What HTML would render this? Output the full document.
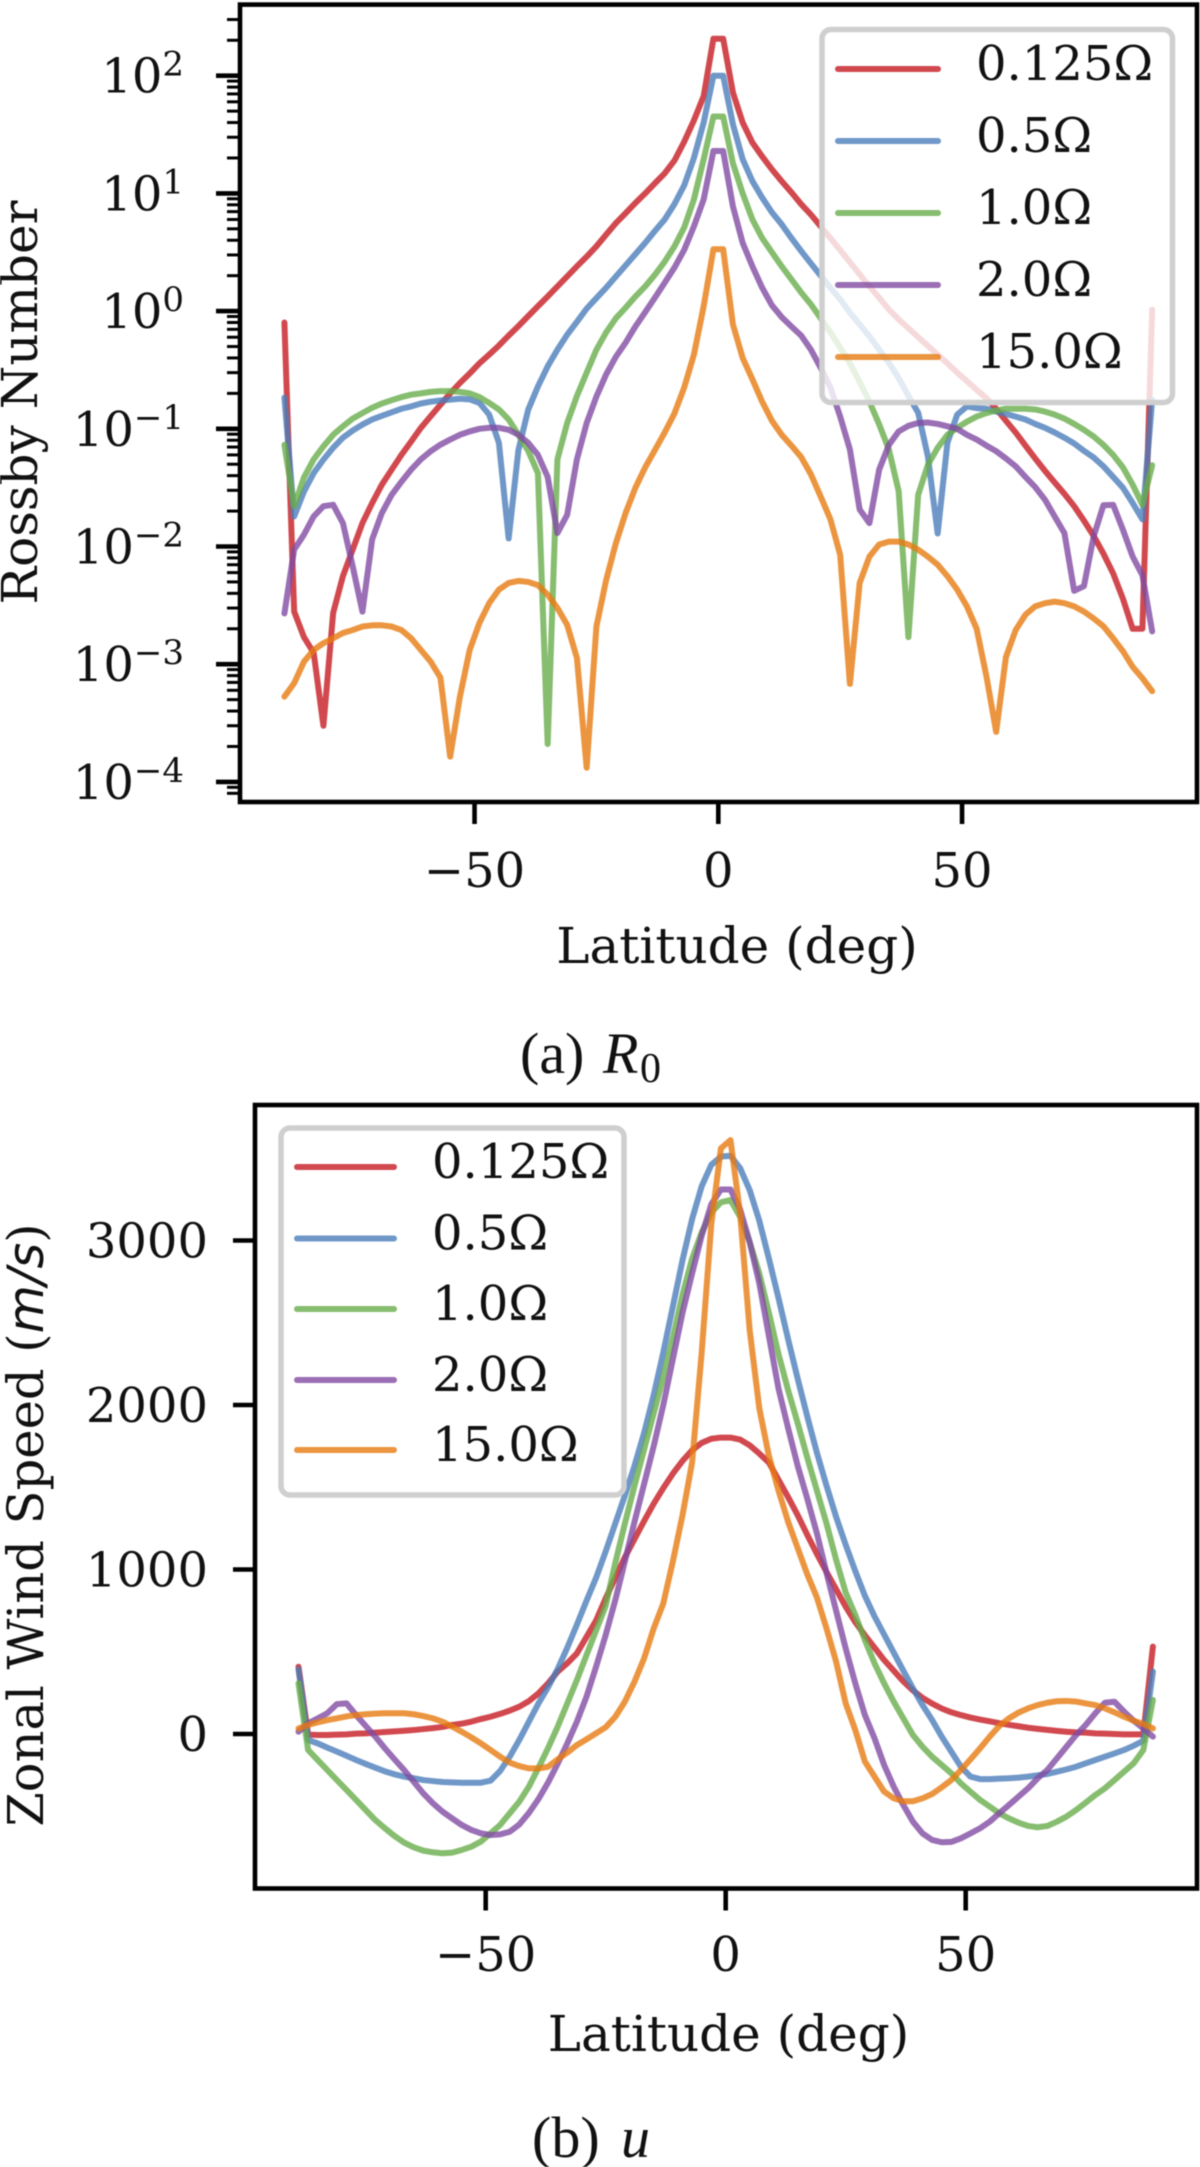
<!DOCTYPE html>
<html lang="en">
<head>
<meta charset="utf-8">
<title>Rossby Number and Zonal Wind Speed vs Latitude</title>
<style>
html,body{margin:0;padding:0;background:#fff;}
#figure{display:block;width:1200px;height:2167px;filter:blur(0.65px);}
.dj{font-family:"DejaVu Serif","Liberation Serif",serif;font-size:48px;fill:#111;}
.title{font-family:"DejaVu Serif","Liberation Serif",serif;font-size:50px;fill:#111;}
.cap{font-family:"Liberation Serif",serif;font-size:58px;fill:#111;}
.series{fill:none;stroke-width:6;stroke-linejoin:round;stroke-linecap:round;stroke-opacity:.8;}
.spine{fill:none;stroke:#000;stroke-width:4.6;}
.legend-box{fill:#fff;fill-opacity:.8;stroke:#cfcfcf;stroke-width:5.5;}
</style>
</head>
<body>
<svg id="figure" xmlns="http://www.w3.org/2000/svg" width="1200" height="2167" viewBox="0 0 1200 2167">
  <rect x="0" y="0" width="1200" height="2167" fill="#fff"/>
  <g id="chart-a"></g>
  <g id="chart-b"></g>
  <text class="title" transform="translate(37,402.5) rotate(-90)" text-anchor="middle">Rossby Number</text>
  <text class="title" x="737" y="963" text-anchor="middle">Latitude (deg)</text>
  <text class="cap" x="520" y="1073">(a)<tspan x="603" font-style="italic">R</tspan><tspan x="640" font-size="42" dy="9">0</tspan></text>
  <text class="title" style="font-size:49.5px" transform="translate(43,1525) rotate(-90)" text-anchor="middle">Zonal Wind Speed (<tspan font-family="'DejaVu Sans',sans-serif" font-style="italic">m/s</tspan>)</text>
  <text class="title" x="728.5" y="2051" text-anchor="middle">Latitude (deg)</text>
  <text class="cap" x="532" y="2157">(b)<tspan x="621" font-style="italic">u</tspan></text>
</svg>
<script>
const latitudes = [
  -89,-87,-85,-83,-81,-79,-77,-75,-73,-71,
  -69,-67,-65,-63,-61,-59,-57,-55,-53,-51,
  -49,-47,-45,-43,-41,-39,-37,-35,-33,-31,
  -29,-27,-25,-23,-21,-19,-17,-15,-13,-11,
  -9,-7,-5,-3,-1,1,3,5,7,9,
  11,13,15,17,19,21,23,25,27,29,
  31,33,35,37,39,41,43,45,47,49,
  51,53,55,57,59,61,63,65,67,69,
  71,73,75,77,79,81,83,85,87,89
];
const seriesLabels = ['0.125Ω','0.5Ω','1.0Ω','2.0Ω','15.0Ω'];
const seriesSlugs = ['0-125-omega','0-5-omega','1-0-omega','2-0-omega','15-0-omega'];
const seriesColors = ['#c51b22','#4b7dba','#68ad4b','#814ba2','#e77a10'];

const rossby0125 = [
  .8,.0028,.0017,.00125,.0003,.00273,.0056,.0094,.0158,.0234,
  .0336,.045,.06,.078,.102,.128,.16,.2,.245,.295,
  .36,.427,.51,.62,.745,.906,1.1,1.33,1.62,1.97,
  2.4,2.9,3.55,4.47,5.6,6.8,8.3,10,12.2,14.8,
  19,27.5,41.7,67,206,206,72,40,27,20.6,
  16,12.7,10.2,8.1,6.6,5.25,4.17,3.3,2.6,2.05,
  1.62,1.3,1.03,.85,.716,.6,.507,.427,.36,.3,
  .254,.214,.182,.148,.117,.093,.072,.056,.044,.035,
  .028,.022,.0166,.0123,.0087,.0059,.0036,.002,.002,1.03
];
const rossby05 = [
  .184,.018,.0293,.042,.0547,.069,.084,.0966,.1086,.12,
  .129,.138,.148,.155,.164,.17,.174,.177,.18,.178,
  .166,.132,.076,.0117,.066,.145,.229,.339,.47,.63,
  .81,1.05,1.29,1.58,1.97,2.45,3.05,3.8,4.8,6,
  8.1,11.7,20,40,100,100,38.6,19.5,12.7,9.2,
  6.9,5.46,4.17,3.24,2.54,2,1.58,1.26,.97,.77,
  .61,.47,.363,.27,.19,.137,.058,.0129,.076,.132,
  .155,.15,.148,.14,.134,.127,.12,.11,.102,.093,
  .084,.075,.065,.057,.048,.039,.0316,.0234,.017,.177
];
const rossby10 = [
  .073,.022,.0385,.055,.071,.089,.105,.122,.136,.151,
  .164,.175,.186,.195,.2,.206,.209,.209,.206,.2,
  .186,.166,.146,.12,.089,.065,.042,.00021,.055,.112,
  .19,.3,.47,.66,.87,1.07,1.33,1.62,2.04,2.63,
  3.55,5.13,8.9,19.5,45,45,18,10,6,4.17,
  3.16,2.4,1.86,1.44,1.14,.87,.66,.49,.36,.25,
  .17,.109,.0665,.0295,.0017,.0275,.0495,.069,.089,.102,
  .115,.127,.136,.143,.148,.148,.148,.146,.14,.132,
  .122,.11,.098,.086,.073,.06,.047,.0335,.0226,.049
];
const rossby20 = [
  .0027,.0094,.0126,.018,.022,.0226,.0158,.0068,.0028,.0115,
  .0193,.0275,.0355,.045,.055,.0645,.0733,.081,.089,.095,
  .1,.102,.102,.098,.089,.076,.06,.039,.013,.0186,
  .055,.112,.188,.29,.41,.54,.74,.98,1.3,1.74,
  2.34,3.31,5.25,8.9,22.9,22.9,7.76,3.8,2.4,1.58,
  1.12,.89,.74,.62,.47,.33,.224,.127,.0665,.0206,
  .0158,.045,.073,.095,.106,.112,.113,.11,.105,.1,
  .089,.081,.072,.0645,.056,.048,.039,.032,.025,.018,
  .013,.0042,.0046,.0122,.0224,.0226,.0139,.0082,.0057,.0019
];
const rossby150 = [
  .00053,.00069,.00105,.00132,.00151,.00166,.00184,.00195,.00209,.00214,
  .00214,.00209,.00195,.00166,.00132,.00105,.00077,.000164,.00053,.00132,
  .00224,.0033,.0043,.0049,.0051,.005,.0047,.0039,.003,.00216,
  .00113,.000132,.00209,.0052,.0107,.0193,.0316,.047,.066,.093,
  .135,.224,.427,1.1,3.35,3.35,.77,.4,.263,.17,
  .117,.089,.072,.0575,.041,.0266,.017,.0085,.00068,.0049,
  .0082,.0104,.011,.011,.0104,.0094,.0082,.007,.0056,.0043,
  .0031,.002,.00079,.000266,.00115,.00195,.00263,.0031,.0033,.0034,
  .0033,.0031,.0028,.00245,.0021,.00166,.00129,.00095,.00076,.00059
];

const wind0125 = [
  409,-4,-6,-6,-4,-2,2,4,8,12,
  16,20,24,30,36,43,55,63,75,91,
  105,122,142,166,200,247,308,379,430,490,
  590,690,825,950,1075,1185,1295,1400,1495,1583,
  1660,1725,1770,1795,1802,1802,1790,1755,1705,1650,
  1545,1440,1330,1210,1095,985,880,774,680,600,
  525,450,385,320,265,220,185,155,132,115,
  100,88,77,66,56,47,38,31,25,19,
  14,10,8,4,2,0,-2,-2,-2,531
];
const wind05 = [
  393,-36,-57,-83,-107,-132,-158,-182,-205,-227,
  -245,-259,-269,-280,-286,-292,-294,-296,-296,-296,
  -284,-225,-138,-36,75,186,285,395,525,665,
  810,950,1110,1280,1450,1630,1830,2060,2320,2600,
  2880,3130,3330,3460,3510,3515,3440,3306,3120,2890,
  2650,2400,2160,1930,1710,1510,1320,1150,990,840,
  715,605,495,385,278,176,85,-16,-107,-199,
  -259,-274,-274,-271,-269,-265,-259,-251,-243,-229,
  -215,-199,-178,-158,-138,-118,-97,-71,-41,379
];
const wind10 = [
  308,-97,-158,-219,-280,-340,-401,-462,-523,-573,
  -620,-660,-689,-709,-719,-725,-721,-705,-685,-654,
  -604,-553,-482,-411,-320,-205,-85,45,186,328,
  480,630,780,1040,1280,1510,1730,1950,2170,2410,
  2670,2890,3050,3170,3232,3246,3144,2990,2800,2560,
  2310,2090,1890,1680,1480,1280,1060,860,723,571,
  430,308,197,95,-6,-77,-138,-188,-239,-300,
  -351,-401,-441,-482,-513,-539,-559,-567,-559,-533,
  -502,-462,-417,-371,-330,-280,-229,-178,-97,207
];
const wind20 = [
  14,65,95,126,182,186,115,49,-16,-87,
  -154,-219,-290,-361,-421,-472,-513,-553,-583,-604,
  -614,-610,-594,-550,-480,-395,-295,-180,-57,75,
  227,409,602,814,1050,1290,1520,1750,2000,2280,
  2560,2800,3030,3220,3310,3310,3190,2990,2740,2420,
  2100,1860,1630,1430,1220,980,750,520,308,115,
  -26,-188,-320,-432,-533,-604,-644,-658,-656,-634,
  -604,-573,-533,-482,-432,-381,-330,-269,-219,-148,
  -77,-6,55,126,190,196,136,81,34,-16
];
const wind150 = [
  34,55,71,85,95,107,115,120,124,126,
  126,126,120,109,95,75,45,14,-20,-57,
  -97,-138,-174,-195,-209,-209,-199,-154,-113,-67,
  -32,4,41,105,197,318,460,642,794,1050,
  1330,1650,2320,3100,3560,3610,3165,2455,1980,1690,
  1480,1290,1130,970,830,642,440,186,24,-168,
  -259,-350,-391,-409,-409,-391,-365,-324,-280,-219,
  -154,-87,-16,49,95,130,156,176,190,199,
  201,197,186,176,156,132,105,81,61,34
];

const latTicks = [-50, 0, 50];
const latTickLabels = ['−50', '0', '50'];
const rossbyDecades = [-4,-3,-2,-1,0,1,2];
const rossbyMinorMultiples = [2,3,4,5,6,7,8,9];
const rossbyMinorDecades = [-5,-4,-3,-2,-1,0,1,2];
const windTicks = [0,1000,2000,3000];
const windTickLabels = ['0','1000','2000','3000'];

const SVGNS = 'http://www.w3.org/2000/svg';

function xA(lat){ return 718.3 + 4.875 * lat; }
function yA(v){ return 311.1 - 117.7 * Math.log10(v); }
function xB(lat){ return 725.7 + 4.8 * lat; }
function yB(v){ return 1734 - 0.1645 * v; }

function mk(tag, parent, props){
  const el = document.createElementNS(SVGNS, tag);
  Object.keys(props).forEach(function(k){ el.setAttribute(k, props[k]); });
  parent.appendChild(el);
  return el;
}
function pathFor(values, xf, yf){
  return values.map(function(v, i){
    return (i ? 'L' : 'M') + xf(latitudes[i]).toFixed(2) + ' ' + yf(v).toFixed(2);
  }).join('');
}

function drawSeries(parent, list, xf, yf, prefix){
  list.forEach(function(values, i){
    const el = mk('path', parent, {d: pathFor(values, xf, yf), 'class': 'series', stroke: seriesColors[i]});
    
    
  });
}

function drawLegend(parent, box, lineX1, lineX2, textX, lineYs, prefix){
  const frame = mk('rect', parent, {x: box[0], y: box[1], width: box[2], height: box[3], rx: 9, ry: 9, 'class': 'legend-box'});
  
  
  seriesLabels.forEach(function(label, i){
    const sw = mk('line', parent, {x1: lineX1, x2: lineX2, y1: lineYs[i], y2: lineYs[i], stroke: seriesColors[i], 'stroke-width': 6, 'stroke-opacity': .8, 'stroke-linecap': 'round'});
    
    
    const tx = mk('text', parent, {x: textX, y: lineYs[i] + 11, 'class': 'dj'});
    
    
    tx.textContent = label;
  });
}

function drawXTicks(parent, xf, axisBottom, labelY, prefix){
  latTicks.forEach(function(t, i){
    const x = xf(t);
    const tick = mk('line', parent, {x1: x, x2: x, y1: axisBottom, y2: axisBottom + 22, stroke: '#000', 'stroke-width': 4.6});
    
    
    const lab = mk('text', parent, {x: x, y: labelY, 'class': 'dj', 'text-anchor': 'middle'});
    
    
    lab.textContent = latTickLabels[i];
  });
}

/* Panel (a) */
const chartA = document.getElementById('chart-a');
drawSeries(chartA, [rossby0125, rossby05, rossby10, rossby20, rossby150], xA, yA, 'rossby');
drawLegend(chartA, [822, 29.5, 350.5, 373], 838, 938, 976, [69,141,213,285,357], 'rossby');
rossbyMinorDecades.forEach(function(d){
  rossbyMinorMultiples.forEach(function(m){
    const v = m * Math.pow(10, d);
    const y = yA(v);
    if (y < 6 || y > 800) return;
    const tick = mk('line', chartA, {x1: 227, x2: 240, y1: y, y2: y, stroke: '#000', 'stroke-width': 3});
    
    
  });
});
rossbyDecades.forEach(function(d){
  const y = yA(Math.pow(10, d));
  const tick = mk('line', chartA, {x1: 216, x2: 240, y1: y, y2: y, stroke: '#000', 'stroke-width': 4.6});
  
  
  const lab = mk('text', chartA, {x: 184, y: y + 17, 'class': 'dj', 'text-anchor': 'end'});
  
  
  lab.appendChild(document.createTextNode('10'));
  const sup = document.createElementNS(SVGNS, 'tspan');
  sup.setAttribute('font-size', '34');
  sup.setAttribute('dy', '-17');
  sup.textContent = (d < 0 ? '−' + Math.abs(d) : String(d));
  lab.appendChild(sup);
});
drawXTicks(chartA, xA, 802, 887, 'rossby');
const frameA = mk('rect', chartA, {x: 240, y: 4.6, width: 957, height: 797.4, 'class': 'spine'});



/* Panel (b) */
const chartB = document.getElementById('chart-b');
drawSeries(chartB, [wind0125, wind05, wind10, wind20, wind150], xB, yB, 'wind');
drawLegend(chartB, [281, 1128, 343, 367], 297, 394, 432, [1167,1238.5,1309,1380,1450], 'wind');
windTicks.forEach(function(t, i){
  const y = yB(t);
  const tick = mk('line', chartB, {x1: 233, x2: 255, y1: y, y2: y, stroke: '#000', 'stroke-width': 4.6});
  
  
  const lab = mk('text', chartB, {x: 208, y: y + 17, 'class': 'dj', 'text-anchor': 'end'});
  
  
  lab.textContent = windTickLabels[i];
});
drawXTicks(chartB, xB, 1888.5, 1971, 'wind');
const frameB = mk('rect', chartB, {x: 255, y: 1105, width: 942, height: 783.5, 'class': 'spine'});


</script>
</body>
</html>
